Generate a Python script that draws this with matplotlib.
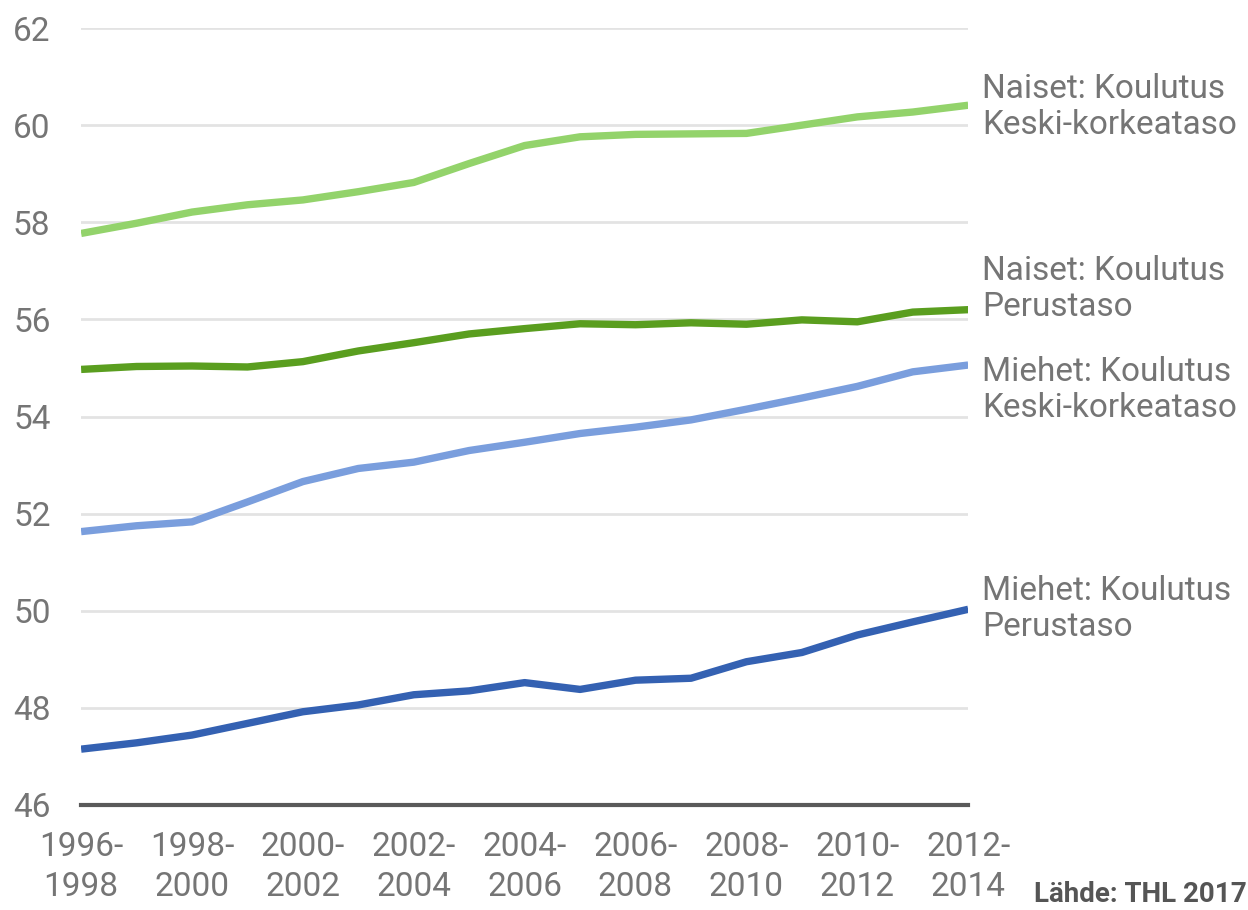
#!/usr/bin/env python3
import matplotlib
matplotlib.use("Agg")
import matplotlib.pyplot as plt
import numpy as np

# periodit (3 vuoden liukuvat)
periods = ["1996-1998", "1997-1999", "1998-2000", "1999-2001", "2000-2002",
           "2001-2003", "2002-2004", "2003-2005", "2004-2006", "2005-2007",
           "2006-2008", "2007-2009", "2008-2010", "2009-2011", "2010-2012",
           "2011-2013", "2012-2014"]

naiset_keski = [57.77, 57.98, 58.21, 58.36, 58.46, 58.63, 58.82, 59.21, 59.58,
                59.76, 59.81, 59.82, 59.83, 60.00, 60.17, 60.27, 60.41]
naiset_perus = [54.97, 55.03, 55.04, 55.02, 55.13, 55.35, 55.52, 55.70, 55.81,
                55.91, 55.89, 55.93, 55.90, 55.99, 55.95, 56.15, 56.20]
miehet_keski = [51.63, 51.75, 51.83, 52.24, 52.66, 52.93, 53.06, 53.30, 53.47,
                53.65, 53.78, 53.93, 54.15, 54.38, 54.62, 54.92, 55.06]
miehet_perus = [47.15, 47.28, 47.44, 47.68, 47.92, 48.06, 48.27, 48.35, 48.52,
                48.38, 48.57, 48.61, 48.95, 49.14, 49.50, 49.77, 50.03]

labels = ["Naiset: Koulutus\nKeski-korkeataso", "Naiset: Koulutus\nPerustaso",
          "Miehet: Koulutus\nKeski-korkeataso", "Miehet: Koulutus\nPerustaso"]
colors = ["#93d36b", "#5a9e1f", "#7a9edd", "#3461b2"]
label_y = [60.38, 56.63, 54.55, 50.04]   # tekstien paikat

plt.rcParams["font.family"] = ["Roboto", "DejaVu Sans"]

def grafico():
    fig = plt.figure(figsize=(12.48, 9.1), dpi=100)
    ax = fig.add_axes([0.065, 0.1154, 0.7108, 0.8538])
    x = np.arange(len(periods))
    series = [naiset_keski, naiset_perus, miehet_keski, miehet_perus]
    for s, c, lab, ly in zip(series, colors, labels, label_y):
        ax.plot(x, s, color=c, lw=5.3, solid_capstyle="butt", zorder=3)
        ax.text(16.25, ly, lab, color="#757575", fontsize=24, va="center",
                ha="left", linespacing=1.15, clip_on=False)

    ax.set_xlim(0, 16)
    ax.set_ylim(46, 62)
    ax.set_yticks(np.arange(46, 63, 2))
    ax.set_xticks(x[::2])
    ax.set_xticklabels([p.replace("-", "-\n") for p in periods[::2]],
                       linespacing=1.3)
    ax.tick_params(axis="both", length=0, labelsize=24, colors="#757575")
    ax.tick_params(axis="y", pad=22)
    ax.tick_params(axis="x", pad=19)
    ax.grid(axis="y", color="#e3e3e3", lw=2)
    ax.set_axisbelow(True)
    for sp in ["top", "right", "left"]:
        ax.spines[sp].set_visible(False)
    ax.spines["bottom"].set_color("#5a5a5a")
    ax.spines["bottom"].set_linewidth(3)
    ax.spines["bottom"].set_zorder(4)

    fig.text(0.999, 0.0165, "Lähde: THL 2017", ha="right", va="center",
             fontsize=20, fontweight="bold", color="#555555")
    fig.savefig("out.png", dpi=100, facecolor="white")

if __name__ == "__main__":
    grafico()
